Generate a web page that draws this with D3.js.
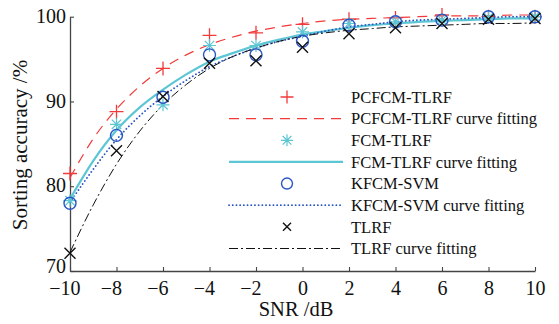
<!DOCTYPE html>
<html>
<head>
<meta charset="utf-8">
<script src="https://cdn.jsdelivr.net/npm/d3@7"></script>
<style>
  body { margin: 0; background: #fff; }
  svg { display: block; }
  text { font-family: "Liberation Serif", "DejaVu Serif", serif; fill: #111; }
</style>
</head>
<body>
<div id="chart"></div>
<script>
// measured points
const snr = [-10, -8, -6, -4, -2, 0, 2, 4, 6, 8, 10];
const pcfcm = [81.5, 88.8, 93.9, 97.8, 98.1, 99.1, 99.7, 99.85, 100.2, 100.0, 100.0];
const fcm = [78.3, 87.3, 89.6, 96.6, 96.6, 98.2, 99.2, 99.4, 99.6, 99.9, 100.0];
const kfcm = [78.0, 86.0, 90.5, 95.5, 95.5, 97.1, 99.0, 99.4, 99.6, 100.0, 100.0];
const tlrf = [72.1, 84.2, 90.6, 94.5, 94.8, 96.4, 98.0, 98.7, 99.2, 99.7, 99.8];

// fitted curves, every 1 dB
const fitSnr = [-10, -9, -8, -7, -6, -5, -4, -3, -2, -1, 0, 1, 2, 3, 4, 5, 6, 7, 8, 9, 10];
const pcfcmFit = [81.0, 85.6, 89.1, 91.8, 93.9, 95.5, 96.7, 97.6, 98.3, 98.8, 99.2, 99.5, 99.7, 99.8, 99.9, 100.0, 100.1, 100.1, 100.1, 100.2, 100.2];
const fcmFit = [78.5, 83.0, 86.6, 89.3, 91.4, 93.2, 94.7, 95.7, 96.6, 97.3, 97.9, 98.3, 98.7, 99.0, 99.2, 99.4, 99.5, 99.6, 99.7, 99.8, 99.8];
const kfcmFit = [78.1, 82.0, 85.5, 88.3, 90.6, 92.5, 94.1, 95.3, 96.3, 97.1, 97.7, 98.3, 98.8, 99.1, 99.4, 99.6, 99.7, 99.8, 99.9, 100.0, 100.0];
const tlrfFit = [72.2, 77.8, 82.6, 86.5, 89.6, 92.0, 93.9, 95.3, 96.3, 97.1, 97.7, 98.1, 98.4, 98.6, 98.8, 98.9, 99.0, 99.1, 99.2, 99.2, 99.3];

const xTicks = [-10, -8, -6, -4, -2, 0, 2, 4, 6, 8, 10];
const yTicks = [70, 80, 90, 100];

const width = 559;
const height = 324;

const svg = d3.select('#chart')
  .append('svg')
  .attr('width', width)
  .attr('height', height);

const x = d3.scaleLinear().domain([-10, 10]).range([70, 535]);
const y = d3.scaleLinear().domain([70, 100]).range([271, 16.7]);

const red = '#f23a3a';
const cyan = '#5cc6d4';
const blue = '#2a56c4';
const black = '#111';

// axes (left and bottom only, ticks pointing in)
const xAxis = d3.axisBottom(x).tickValues(xTicks).tickSizeInner(-4).tickSizeOuter(0).tickPadding(10);
const yAxis = d3.axisLeft(y).tickValues(yTicks).tickSizeInner(-4).tickSizeOuter(0).tickPadding(4);

const gx = svg.append('g').attr('transform', `translate(0,${y(70)})`).call(xAxis);
const gy = svg.append('g').attr('transform', `translate(${x(-10)},0)`).call(yAxis);

[gx, gy].forEach(g => {
  g.select('.domain').attr('stroke', '#444').attr('stroke-width', 1.3);
  g.selectAll('.tick line').attr('stroke', '#444').attr('stroke-width', 1.1);
  g.selectAll('.tick text')
    .attr('font-family', '"Liberation Serif", serif')
    .attr('font-size', 20)
    .attr('fill', '#111');
});
// keep the digits centred on the tick, minus sign hanging left
gx.selectAll('.tick text').attr('dx', d => d < 0 ? '-0.28em' : null);
// the corner label sits a little higher so it clears "−10"
gy.selectAll('.tick text')
  .attr('dy', '0.28em')
  .attr('y', d => d === 70 ? -4 : 0);

// axis titles
svg.append('text')
  .attr('x', 296)
  .attr('y', 316)
  .attr('text-anchor', 'middle')
  .attr('font-size', 20.5)
  .text('SNR /dB');

svg.append('text')
  .attr('transform', 'translate(27,145) rotate(-90)')
  .attr('text-anchor', 'middle')
  .attr('font-size', 21)
  .text('Sorting accuracy /%');

// fitted curves
const pairs = (xs, ys) => xs.map((v, i) => [v, ys[i]]);
const line = d3.line()
  .x(d => x(d[0]))
  .y(d => y(d[1]))
  .curve(d3.curveMonotoneX);

const fits = [
  { values: pcfcmFit, color: red, width: 1.2, dash: '10,7', cap: 'butt' },
  { values: fcmFit, color: cyan, width: 2.2, dash: null, cap: 'butt' },
  { values: kfcmFit, color: blue, width: 1.8, dash: '0.1,3.6', cap: 'round' },
  { values: tlrfFit, color: black, width: 1, dash: '9,3,2,3', cap: 'butt' }
];

fits.forEach(f => {
  svg.append('path')
    .datum(pairs(fitSnr, f.values))
    .attr('d', line)
    .attr('fill', 'none')
    .attr('stroke', f.color)
    .attr('stroke-width', f.width)
    .attr('stroke-dasharray', f.dash)
    .attr('stroke-linecap', f.cap);
});

// marker drawing helpers
function plus(g, cx, cy, s, color) {
  g.append('path')
    .attr('d', `M${cx - s},${cy}H${cx + s}M${cx},${cy - s}V${cy + s}`)
    .attr('stroke', color).attr('stroke-width', 1.3).attr('fill', 'none');
}
function star(g, cx, cy, s, color) {
  const d = `M${cx - s},${cy}H${cx + s}M${cx},${cy - s}V${cy + s}` +
    `M${cx - s * 0.72},${cy - s * 0.72}L${cx + s * 0.72},${cy + s * 0.72}` +
    `M${cx - s * 0.72},${cy + s * 0.72}L${cx + s * 0.72},${cy - s * 0.72}`;
  g.append('path').attr('d', d).attr('stroke', color).attr('stroke-width', 1.2).attr('fill', 'none');
}
function circle(g, cx, cy, r, color) {
  g.append('circle').attr('cx', cx).attr('cy', cy).attr('r', r)
    .attr('stroke', color).attr('stroke-width', 1.4).attr('fill', 'none');
}
function cross(g, cx, cy, s, color) {
  g.append('path')
    .attr('d', `M${cx - s},${cy - s}L${cx + s},${cy + s}M${cx - s},${cy + s}L${cx + s},${cy - s}`)
    .attr('stroke', color).attr('stroke-width', 1.4).attr('fill', 'none');
}

const marks = svg.append('g');
snr.forEach((s, i) => plus(marks, x(s), y(pcfcm[i]), 7, red));
snr.forEach((s, i) => star(marks, x(s), y(fcm[i]), 6.5, cyan));
snr.forEach((s, i) => circle(marks, x(s), y(kfcm[i]), 6, blue));
snr.forEach((s, i) => cross(marks, x(s), y(tlrf[i]), 5.5, black));

// legend
const legendItems = [
  { label: 'PCFCM-TLRF', marker: 'plus', color: red },
  { label: 'PCFCM-TLRF curve fitting', line: fits[0] },
  { label: 'FCM-TLRF', marker: 'star', color: cyan },
  { label: 'FCM-TLRF curve fitting', line: fits[1] },
  { label: 'KFCM-SVM', marker: 'circle', color: blue },
  { label: 'KFCM-SVM curve fitting', line: fits[2] },
  { label: 'TLRF', marker: 'cross', color: black },
  { label: 'TLRF curve fitting', line: fits[3] }
];

const legend = svg.append('g');
const rowY = d3.scaleLinear().domain([0, 7]).range([97, 248.5]);
legendItems.forEach((item, i) => {
  const ry = rowY(i);
  if (item.line) {
    legend.append('line')
      .attr('x1', 229).attr('x2', 343).attr('y1', ry).attr('y2', ry)
      .attr('stroke', item.line.color)
      .attr('stroke-width', item.line.width)
      .attr('stroke-dasharray', item.line.dash)
      .attr('stroke-linecap', item.line.cap);
  } else if (item.marker === 'plus') {
    plus(legend, 287, ry, 6.5, item.color);
  } else if (item.marker === 'star') {
    star(legend, 287, ry, 6, item.color);
  } else if (item.marker === 'circle') {
    circle(legend, 287, ry, 5.5, item.color);
  } else {
    cross(legend, 287, ry, 4, item.color);
  }
  legend.append('text')
    .attr('x', 351)
    .attr('y', ry)
    .attr('dy', '0.35em')
    .attr('font-size', 16.5)
    .text(item.label);
});
</script>
</body>
</html>
